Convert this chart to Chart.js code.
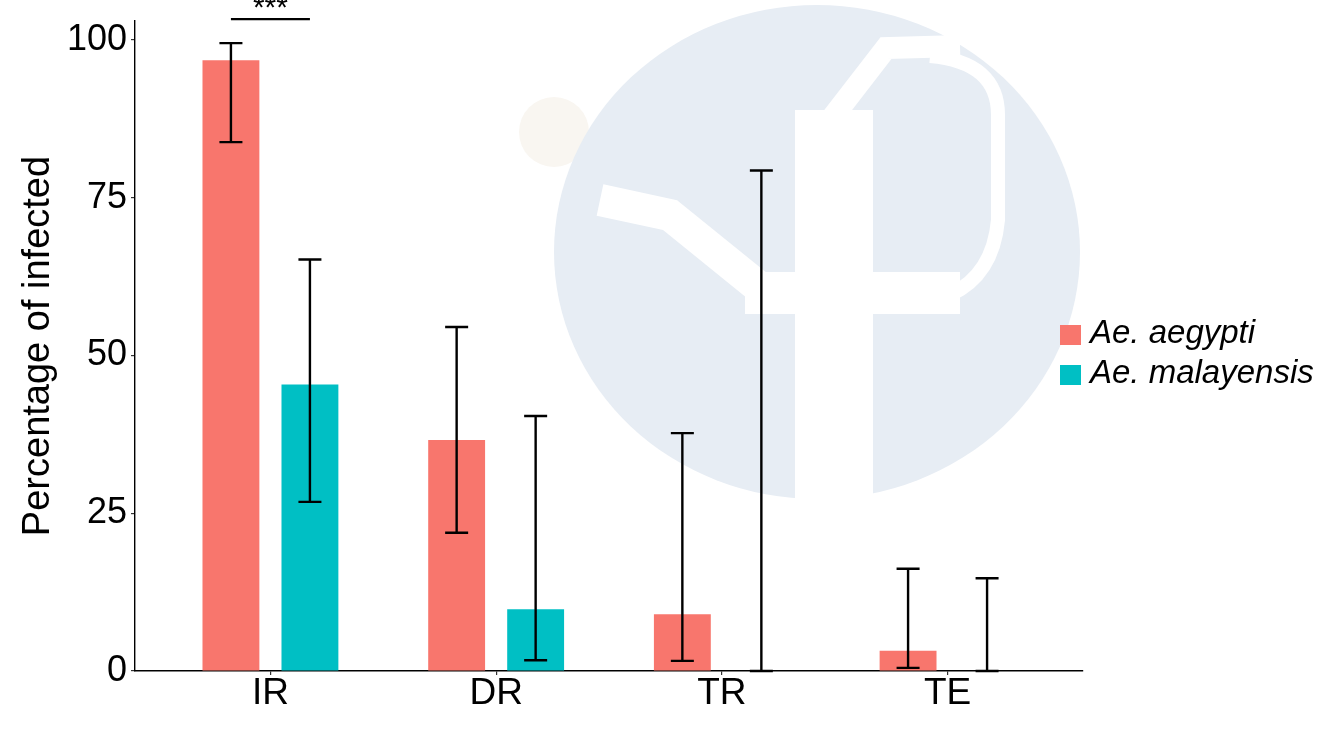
<!DOCTYPE html>
<html>
<head>
<meta charset="utf-8">
<title>Percentage of infected</title>
<script src="https://cdn.jsdelivr.net/npm/chart.js@4.4.1/dist/chart.umd.min.js"></script>
<style>
  html, body { margin: 0; padding: 0; background: #fff; }
  #wrap { position: relative; width: 1333px; height: 750px; }
</style>
</head>
<body>
<div id="wrap"><canvas id="chart" width="1333" height="750"></canvas></div>
<script>
// values (percent)
const categories = ['IR', 'DR', 'TR', 'TE'];
const seriesNames = ['Ae. aegypti', 'Ae. malayensis'];
const seriesColors = ['#F8766D', '#00BFC4'];
const aegyptiValues = [96.8, 36.6, 9.0, 3.2];
const aegyptiLow = [83.8, 21.9, 1.6, 0.5];
const aegyptiHigh = [99.5, 54.5, 37.7, 16.2];
const malayensisValues = [45.4, 9.8, 0, 0];
const malayensisLow = [26.8, 1.7, 0, 0];
const malayensisHigh = [65.2, 40.4, 79.3, 14.7];
const yTicks = [0, 25, 50, 75, 100];
const sigCategory = 'IR';
const sigLabel = '***';
const sigLevel = 103.3;

const FONT = "'Liberation Sans', Arial, sans-serif";

function toPoints(vals) {
  return vals.map((v, i) => ({ x: i, y: v }));
}

// faint logo watermark behind the plot
const watermark = {
  id: 'watermark',
  beforeDraw(chart) {
    const ctx = chart.ctx;
    ctx.save();
    ctx.fillStyle = '#fff';
    ctx.fillRect(0, 0, chart.width, chart.height);
    ctx.fillStyle = '#F9F6F1';
    ctx.beginPath();
    ctx.arc(554, 132, 35, 0, Math.PI * 2);
    ctx.fill();
    ctx.fillStyle = '#E7EDF4';
    ctx.beginPath();
    ctx.ellipse(817, 252, 263, 247, 0, 0, Math.PI * 2);
    ctx.fill();
    ctx.fillStyle = '#fff';
    ctx.strokeStyle = '#fff';
    ctx.fillRect(795, 110, 78, 400);
    ctx.lineCap = 'butt';
    ctx.lineJoin = 'miter';
    // upper notch
    ctx.lineWidth = 22;
    ctx.beginPath();
    ctx.moveTo(832, 118);
    ctx.lineTo(886, 48);
    ctx.lineTo(960, 46);
    ctx.stroke();
    // ring round the right lobe
    ctx.lineWidth = 14;
    ctx.beginPath();
    ctx.moveTo(930, 56);
    ctx.quadraticCurveTo(998, 62, 998, 115);
    ctx.lineTo(998, 220);
    ctx.quadraticCurveTo(993, 275, 950, 295);
    ctx.stroke();
    // left branch
    ctx.lineWidth = 32;
    ctx.beginPath();
    ctx.moveTo(600, 200);
    ctx.lineTo(670, 215);
    ctx.lineTo(765, 292);
    ctx.stroke();
    ctx.fillRect(745, 272, 215, 42);
    ctx.restore();
  }
};

// error bars from the low/high arrays
const errorBars = {
  id: 'errorBars',
  afterDatasetsDraw(chart) {
    const ctx = chart.ctx;
    const y = chart.scales.y;
    ctx.save();
    ctx.strokeStyle = '#000';
    ctx.lineWidth = 2.4;
    chart.data.datasets.forEach((ds, di) => {
      const meta = chart.getDatasetMeta(di);
      meta.data.forEach((bar, i) => {
        const lo = y.getPixelForValue(ds.errLow[i]);
        const hi = y.getPixelForValue(ds.errHigh[i]);
        const cx = bar.x;
        ctx.beginPath();
        ctx.moveTo(cx, lo);
        ctx.lineTo(cx, hi);
        ctx.moveTo(cx - 11.5, lo);
        ctx.lineTo(cx + 11.5, lo);
        ctx.moveTo(cx - 11.5, hi);
        ctx.lineTo(cx + 11.5, hi);
        ctx.stroke();
      });
    });
    ctx.restore();
  }
};

// significance bracket + legend drawn outside the plot area
const extras = {
  id: 'extras',
  afterDraw(chart) {
    const ctx = chart.ctx;
    const idx = categories.indexOf(sigCategory);
    const x1 = chart.getDatasetMeta(0).data[idx].x;
    const x2 = chart.getDatasetMeta(1).data[idx].x;
    const ly = chart.scales.y.getPixelForValue(sigLevel);
    ctx.save();
    ctx.strokeStyle = '#000';
    ctx.lineWidth = 2.2;
    ctx.beginPath();
    ctx.moveTo(x1, ly);
    ctx.lineTo(x2, ly);
    ctx.stroke();
    ctx.fillStyle = '#000';
    ctx.font = '30px ' + FONT;
    ctx.textAlign = 'center';
    ctx.textBaseline = 'alphabetic';
    ctx.fillText(sigLabel, (x1 + x2) / 2, ly - 2);

    // legend
    ctx.font = 'italic 33px ' + FONT;
    ctx.textAlign = 'left';
    seriesNames.forEach((name, i) => {
      const top = 325 + i * 40;
      ctx.fillStyle = seriesColors[i];
      ctx.fillRect(1060, top, 21, 20);
      ctx.fillStyle = '#000';
      ctx.fillText(name, 1090, top + 18);
    });
    ctx.restore();
  }
};

new Chart(document.getElementById('chart'), {
  type: 'bar',
  data: {
    datasets: [
      {
        label: seriesNames[0],
        data: toPoints(aegyptiValues),
        errLow: aegyptiLow,
        errHigh: aegyptiHigh,
        backgroundColor: seriesColors[0]
      },
      {
        label: seriesNames[1],
        data: toPoints(malayensisValues),
        errLow: malayensisLow,
        errHigh: malayensisHigh,
        backgroundColor: seriesColors[1]
      }
    ]
  },
  options: {
    responsive: false,
    animation: false,
    categoryPercentage: 0.70,
    barPercentage: 0.72,
    layout: { padding: { top: 21, right: 250, left: 0, bottom: 0 } },
    plugins: {
      legend: { display: false },
      tooltip: { enabled: false }
    },
    scales: {
      x: {
        type: 'linear',
        min: -0.6,
        max: 3.6,
        offset: false,
        afterBuildTicks: s => { s.ticks = categories.map((c, i) => ({ value: i })); },
        afterFit: s => { s.height = 79; s.paddingLeft = 0; s.paddingRight = 0; },
        grid: { offset: false, drawOnChartArea: false, tickLength: 4, color: '#333', lineWidth: 1.2 },
        border: { color: '#000', width: 1.4 },
        ticks: {
          callback: v => categories[v],
          autoSkip: false,
          maxRotation: 0,
          padding: -3,
          color: '#000',
          font: { family: FONT, size: 37 }
        }
      },
      y: {
        min: 0,
        max: 103,
        afterBuildTicks: s => { s.ticks = yTicks.map(v => ({ value: v })); },
        afterFit: s => { s.width = 135; s.paddingTop = 0; s.paddingBottom = 0; },
        grid: { drawOnChartArea: false, tickLength: 4, color: '#333', lineWidth: 1.2 },
        border: { color: '#000', width: 1.4 },
        ticks: {
          padding: 4,
          color: '#000',
          font: { family: FONT, size: 36 }
        },
        title: {
          display: true,
          text: 'Percentage of infected',
          color: '#000',
          padding: { top: 16, bottom: 0 },
          font: { family: FONT, size: 38 }
        }
      }
    }
  },
  plugins: [watermark, errorBars, extras]
});
</script>
</body>
</html>
